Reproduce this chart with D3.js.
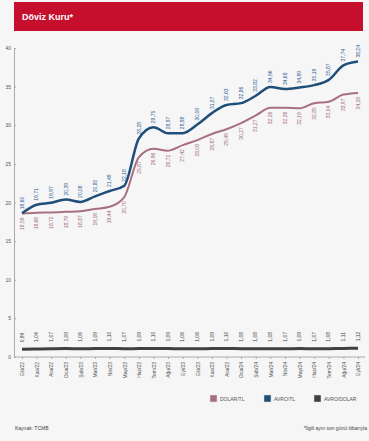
<!DOCTYPE html>
<meta charset="utf-8">
<script src="https://d3js.org/d3.v7.min.js"></script>
<style>
  body { margin: 0; background: #f6f6f6; }
  text { font-family: "Liberation Sans", Arial, sans-serif; }
</style>
<div id="chart"></div>
<script>

// month labels
var months = ["Eki/22","Kas/22","Ara/22","Oca/23","Şub/23","Mar/23","Nis/23","May/23",
  "Haz/23","Tem/23","Ağu/23","Eyl/23","Eki/23","Kas/23","Ara/23","Oca/24",
  "Şub/24","Mar/24","Nis/24","May/24","Haz/24","Tem/24","Ağu/24","Eyl/24"];

// series
var dolarTL = [18.59,18.66,18.72,18.79,18.87,19.16,19.44,20.70,25.87,26.96,26.71,27.42,
  28.08,28.87,29.49,30.27,31.27,32.26,32.26,32.19,32.85,33.04,33.97,34.19];
var avroTL = [18.60,19.71,19.97,20.39,20.08,20.80,21.49,22.18,28.28,29.75,28.97,28.98,
  30.09,31.57,32.63,32.86,33.82,34.96,34.68,34.89,35.19,35.87,37.74,38.24];
var avroDolar = [0.99,1.04,1.07,1.09,1.06,1.09,1.10,1.07,1.09,1.10,1.09,1.06,
  1.06,1.09,1.10,1.08,1.08,1.08,1.07,1.09,1.07,1.08,1.11,1.12];
var yTicks = [0,5,10,15,20,25,30,35,40];

var W = 369, H = 441;
var svg = d3.select("#chart").append("svg")
  .attr("width", W).attr("height", H);

svg.append("rect").attr("width", W).attr("height", H).attr("fill", "#f6f6f6");

// title bar
svg.append("rect")
  .attr("x", 14).attr("y", 2).attr("width", 349).attr("height", 29)
  .attr("fill", "#c50f2d");
svg.append("text")
  .attr("x", 22).attr("y", 20)
  .attr("fill", "#fff").style("font-size", "9px").style("font-weight", "bold")
  .text("Döviz Kuru*");

var x = d3.scalePoint().domain(months).range([22, 358]);
var y = d3.scaleLinear().domain([0, 40]).range([357, 48]);

// y axis
var yAxis = svg.append("g")
  .attr("transform", "translate(14,0)")
  .call(d3.axisLeft(y).tickValues(yTicks).tickSize(-2).tickPadding(3));
yAxis.select(".domain").attr("stroke", "#aaa");
yAxis.selectAll(".tick line").attr("stroke", "#aaa");
yAxis.selectAll("text").style("font-size", "5px").attr("fill", "#555");

// x axis
var xAxis = svg.append("g")
  .attr("transform", "translate(0,357)")
  .call(d3.axisBottom(x).tickSize(2).tickPadding(3));
xAxis.select(".domain").attr("d", "M14,0H365").attr("stroke", "#aaa");
xAxis.selectAll(".tick line").attr("stroke", "#aaa");
xAxis.selectAll("text")
  .style("font-size", "5px").attr("fill", "#555")
  .attr("text-anchor", "end")
  .attr("transform", "rotate(-90)")
  .attr("x", -5).attr("y", 0).attr("dy", "0.35em");

function fmt(v) { return d3.format(".2f")(v).replace(".", ","); }

var series = [
  {name: "DOLAR/TL", values: dolarTL, color: "#a8707f", width: 2},
  {name: "AVRO/TL", values: avroTL, color: "#1f4e79", width: 2.5},
  {name: "AVRO/DOLAR", values: avroDolar, color: "#404040", width: 3}
];

var line = d3.line()
  .x(function(d, i) { return x(months[i]); })
  .y(function(d) { return y(d); })
  .curve(d3.curveMonotoneX);

series.forEach(function(s) {
  svg.append("path")
    .datum(s.values)
    .attr("d", line)
    .attr("fill", "none")
    .attr("stroke", s.color)
    .attr("stroke-width", s.width);
});

// value labels
function addLabels(vals, color, offset, anchor) {
  svg.selectAll(null)
    .data(vals)
    .enter()
    .append("text")
      .attr("transform", function(d, i) {
        return "translate(" + (x(months[i]) + 1.7) + "," + (y(d) + offset) + ") rotate(-90)";
      })
      .attr("text-anchor", anchor)
      .style("font-size", "5px")
      .attr("fill", color)
      .text(function(d) { return fmt(d); });
}
addLabels(avroTL, "#2a5f95", -4, "start");
addLabels(dolarTL, "#a06878", 4, "end");
addLabels(avroDolar, "#444", -7, "start");

// legend
var legend = svg.append("g").attr("transform", "translate(210,395)");
var lx = [0, 54, 104];
series.forEach(function(s, i) {
  legend.append("rect")
    .attr("x", lx[i]).attr("y", 0).attr("width", 7).attr("height", 7)
    .attr("fill", s.color).attr("stroke", "#ddd").attr("stroke-width", 0.5);
  legend.append("text")
    .attr("x", lx[i] + 10).attr("y", 5.5)
    .style("font-size", "5px").attr("fill", "#555")
    .text(s.name);
});

// footer
svg.append("text")
  .attr("x", 15).attr("y", 430)
  .style("font-size", "5px").attr("fill", "#444")
  .text("Kaynak: TCMB");
svg.append("text")
  .attr("x", 367).attr("y", 430)
  .attr("text-anchor", "end")
  .style("font-size", "5px").attr("fill", "#444")
  .text("*İlgili ayın son günü itibarıyla");

</script>
